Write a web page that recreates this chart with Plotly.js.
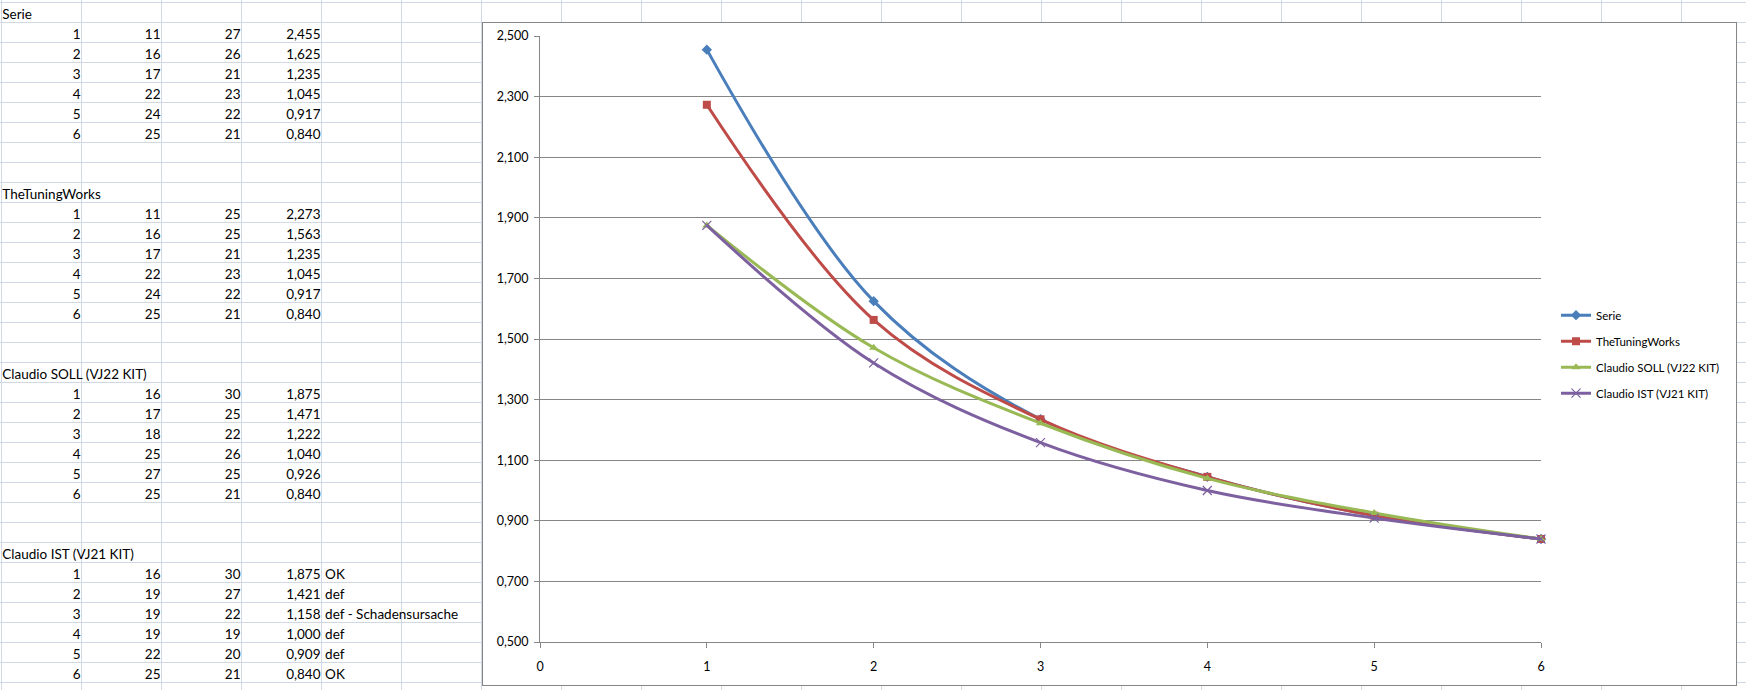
<!DOCTYPE html>
<html><head><meta charset="utf-8">
<script src="https://cdn.plot.ly/plotly-3.0.1.min.js"></script>
<style>
html,body{margin:0;padding:0;background:#fff;overflow:hidden;width:1746px;height:690px;}
#sheet{position:absolute;left:0;top:0;width:1746px;height:690px;}
#chart{position:absolute;left:482px;top:22px;width:1255px;height:664px;box-sizing:border-box;border:1px solid #868686;background:#fff;}
</style></head><body>
<div id="sheet"></div><div id="chart"></div>
<script>
// ---------- data ----------
const gears = [1, 2, 3, 4, 5, 6];
const seriesNames = ['Serie', 'TheTuningWorks', 'Claudio SOLL (VJ22 KIT)', 'Claudio IST (VJ21 KIT)'];

const serieTeethA = [11, 16, 17, 22, 24, 25];
const serieTeethB = [27, 26, 21, 23, 22, 21];
const serieRatio  = [2.455, 1.625, 1.235, 1.045, 0.917, 0.840];

const ttwTeethA = [11, 16, 17, 22, 24, 25];
const ttwTeethB = [25, 25, 21, 23, 22, 21];
const ttwRatio  = [2.273, 1.563, 1.235, 1.045, 0.917, 0.840];

const sollTeethA = [16, 17, 18, 25, 27, 25];
const sollTeethB = [30, 25, 22, 26, 25, 21];
const sollRatio  = [1.875, 1.471, 1.222, 1.040, 0.926, 0.840];

const istTeethA = [16, 19, 19, 19, 22, 25];
const istTeethB = [30, 27, 22, 19, 20, 21];
const istRatio  = [1.875, 1.421, 1.158, 1.000, 0.909, 0.840];
const istStatus = ['OK', 'def', 'def - Schadensursache', 'def', 'def', 'OK'];

const yTickVals = [0.5, 0.7, 0.9, 1.1, 1.3, 1.5, 1.7, 1.9, 2.1, 2.3, 2.5];
const xTickVals = [0, 1, 2, 3, 4, 5, 6];

const colors = ['#4A7EBB', '#BE4B48', '#98B954', '#7D60A0'];
const symbols = ['diamond', 'square', 'triangle-up', 'x-thin-open'];

// ---------- spreadsheet background ----------
const FONT = 'Lato, "Open Sans", sans-serif';
const fmt = v => v.toFixed(3).replace('.', ',');
const blocks = [
  {name: seriesNames[0], a: serieTeethA, b: serieTeethB, r: serieRatio, s: null},
  {name: seriesNames[1], a: ttwTeethA, b: ttwTeethB, r: ttwRatio, s: null},
  {name: seriesNames[2], a: sollTeethA, b: sollTeethB, r: sollRatio, s: null},
  {name: seriesNames[3], a: istTeethA, b: istTeethB, r: istRatio, s: istStatus}
];
const rx = [], ry = [], rt = [], lx = [], ly = [], lt = [];
const TY = 0.66;
blocks.forEach((blk, bi) => {
  const row0 = bi * 9;
  lx.push(0.01); ly.push(row0 + TY); lt.push(blk.name);
  gears.forEach((g, i) => {
    const row = row0 + 1 + i + TY;
    const cols = [String(g), String(blk.a[i]), String(blk.b[i]), fmt(blk.r[i])];
    cols.forEach((t, c) => { rx.push(c + 1 - 0.012); ry.push(row); rt.push(t); });
    if (blk.s) { lx.push(4 + 0.045); ly.push(row); lt.push(blk.s[i]); }
  });
});
const sheetTextFont = {family: FONT, size: 13.5, color: '#000'};
Plotly.newPlot('sheet', [
  {type: 'scatter', mode: 'text', x: rx, y: ry, text: rt, textposition: 'middle left',
   marker: {size: 1}, textfont: sheetTextFont, hoverinfo: 'skip', showlegend: false, cliponaxis: false},
  {type: 'scatter', mode: 'text', x: lx, y: ly, text: lt, textposition: 'middle right',
   marker: {size: 1}, textfont: sheetTextFont, hoverinfo: 'skip', showlegend: false, cliponaxis: false}
], {
  width: 1746, height: 690, margin: {l: 0, r: 0, t: 0, b: 0},
  paper_bgcolor: '#fff', plot_bgcolor: '#fff', showlegend: false,
  xaxis: {range: [-1.5 / 80, -1.5 / 80 + 1746 / 80], tick0: 0, dtick: 1, showgrid: true,
          gridcolor: '#d0d7e5', gridwidth: 1, zeroline: false, showticklabels: false, ticks: '', fixedrange: true},
  yaxis: {range: [-2.5 / 20 + 690 / 20, -2.5 / 20], tick0: 0, dtick: 1, showgrid: true,
          gridcolor: '#d0d7e5', gridwidth: 1, zeroline: false, showticklabels: false, ticks: '', fixedrange: true}
}, {staticPlot: true, displayModeBar: false});

// ---------- chart ----------
const ratios = [serieRatio, ttwRatio, sollRatio, istRatio];
const traces = ratios.map((vals, i) => ({
  type: 'scatter', mode: 'lines+markers', name: seriesNames[i],
  x: gears, y: vals, legendgroup: 'g' + i,
  line: {color: colors[i], width: 3, shape: 'spline', smoothing: 1},
  marker: {symbol: symbols[i], size: i === 3 ? 9 : 8, color: colors[i],
           line: {color: colors[i], width: i === 3 ? 1.2 : 0}},
  cliponaxis: false
}));
const gray = '#868686';
Plotly.newPlot('chart', traces, {
  width: 1253, height: 662,
  margin: {l: 57, r: 195, t: 13, b: 43, autoexpand: false},
  paper_bgcolor: '#fff', plot_bgcolor: '#fff',
  font: {family: FONT, size: 12, color: '#000'},
  separators: ',.',
  xaxis: {range: [0, 6], tickvals: xTickVals, ticktext: xTickVals.map(String),
          showgrid: false, zeroline: false, showline: true, linecolor: gray, linewidth: 1,
          ticks: 'outside', ticklen: 5, tickcolor: gray, tickwidth: 1, ticklabelstandoff: 8,
          tickfont: {family: FONT, size: 12.5, color: '#000'}, fixedrange: true},
  yaxis: {range: [0.5, 2.5], tickvals: yTickVals, tickformat: '.3f',
          showgrid: true, gridcolor: gray, gridwidth: 1, zeroline: false,
          showline: true, linecolor: gray, linewidth: 1,
          ticks: 'outside', ticklen: 5, tickcolor: gray, tickwidth: 1, ticklabelstandoff: 3,
          tickfont: {family: FONT, size: 12.5, color: '#000'}, fixedrange: true},
  showlegend: true,
  legend: {x: 1.015, xanchor: 'left', y: 0.475, yanchor: 'middle', xref: 'paper', yref: 'paper',
           traceorder: 'grouped', tracegroupgap: 7, itemwidth: 30,
           font: {family: FONT, size: 11.5, color: '#000'}, bgcolor: 'rgba(0,0,0,0)', borderwidth: 0}
}, {staticPlot: true, displayModeBar: false});
</script>
</body></html>
